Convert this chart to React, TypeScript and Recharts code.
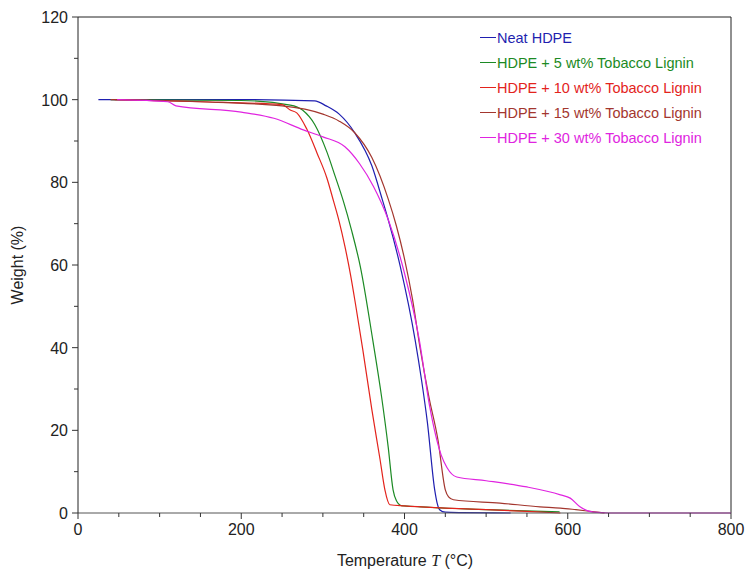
import { LineChart, Line, XAxis, YAxis, ReferenceLine } from 'recharts';

const neatT = [25, 100, 200, 290, 304, 320, 339, 360, 373, 380, 395, 413, 421, 428, 437, 440, 443, 450, 470, 530];
const neatW = [100, 100, 100, 99.7, 98.5, 96.5, 92, 84, 75.7, 71, 59.5, 41.9, 32, 22, 5.6, 2.4, 0.8, 0.2, 0.1, 0];

const tl5T = [40, 200, 260, 275, 290, 305, 315, 325, 335, 346, 361, 372, 380, 386, 390, 396, 420, 500, 590];
const tl5W = [100, 99.8, 98.7, 97.5, 94, 87.3, 81.5, 75.5, 68.5, 59.5, 42, 28, 16, 5.6, 3, 1.8, 1.5, 0.8, 0.3];

const tl10T = [45, 150, 250, 260, 268, 280, 293, 305, 313, 320, 327, 334, 340, 349, 360, 370, 376, 382, 400, 450, 500, 550, 591];
const tl10W = [100, 99.5, 98.8, 97.5, 96.8, 93, 87, 81, 75.5, 70.5, 64.5, 57.5, 50.5, 39.4, 25, 13, 5.6, 2, 1.7, 1.2, 0.8, 0.4, 0];

const tl15T = [40, 150, 250, 300, 320, 339, 360, 380, 390, 400, 410, 419, 430, 441, 450, 454, 460, 517, 566, 591, 610, 636, 645];
const tl15W = [100, 99.5, 98.5, 96.5, 94.8, 92, 86, 76, 69.5, 61.5, 51.5, 40, 28, 17.7, 5.6, 3.9, 3.2, 2.4, 1.5, 1.2, 0.8, 0.2, 0];

const tl30T = [48, 110, 120, 200, 240, 276, 300, 327, 345, 362, 380, 400, 418, 431, 445, 452, 464, 500, 550, 591, 603, 615, 631, 650, 700, 800];
const tl30W = [100, 99.5, 98.5, 97, 95.5, 92.7, 91, 88.6, 84.5, 79, 71, 58, 42, 25.6, 14, 11, 8.7, 7.8, 6.3, 4.4, 3.6, 1.5, 0.2, 0, 0, 0];

const xTicks = [0, 50, 100, 150, 200, 250, 300, 350, 400, 450, 500, 550, 600, 650, 700, 750, 800];
const yTicks = [0, 10, 20, 30, 40, 50, 60, 70, 80, 90, 100, 110, 120];

const seriesNames = [
  'Neat HDPE',
  'HDPE + 5 wt% Tobacco Lignin',
  'HDPE + 10 wt% Tobacco Lignin',
  'HDPE + 15 wt% Tobacco Lignin',
  'HDPE + 30 wt% Tobacco Lignin',
];
const seriesColors = ['#1f1fb0', '#1c8a24', '#e3231c', '#a3362e', '#e024e0'];

const zip = (ts: number[], ws: number[]) => ts.map((t, i) => ({ t, w: ws[i] }));

const series = [
  zip(neatT, neatW),
  zip(tl5T, tl5W),
  zip(tl10T, tl10W),
  zip(tl15T, tl15W),
  zip(tl30T, tl30W),
];

const FONT = '"Liberation Sans", Arial, sans-serif';

function XTick(props: any) {
  const { x, y, payload } = props;
  const major = payload.value % 200 === 0;
  return (
    <g>
      <line x1={x} y1={y - 8} x2={x} y2={y - 8 + (major ? 6 : 4)} stroke="#333" />
      {major && (
        <text x={x} y={y + 14} textAnchor="middle" fontSize={16} fill="#222" fontFamily={FONT}>
          {payload.value}
        </text>
      )}
    </g>
  );
}

function YTick(props: any) {
  const { x, y, payload } = props;
  const major = payload.value % 20 === 0;
  return (
    <g>
      <line x1={x + 8} y1={y} x2={x + 8 - (major ? 6 : 4)} y2={y} stroke="#333" />
      {major && (
        <text x={x - 2} y={y + 6} textAnchor="end" fontSize={16} fill="#222" fontFamily={FONT}>
          {payload.value}
        </text>
      )}
    </g>
  );
}

export default function App() {
  return (
    <div style={{ position: 'absolute', left: 0, top: 0, width: 746, height: 571, background: '#fff' }}>
      <LineChart width={746} height={571} margin={{ top: 17, right: 15, left: 0, bottom: 0 }}>
        <XAxis
          dataKey="t"
          type="number"
          domain={[0, 800]}
          ticks={xTicks}
          interval={0}
          height={58}
          stroke="#555"
          tickLine={false}
          tick={<XTick />}
          allowDataOverflow
        />
        <YAxis
          dataKey="w"
          type="number"
          domain={[0, 120]}
          ticks={yTicks}
          interval={0}
          width={78}
          stroke="#222"
          tickLine={false}
          tick={<YTick />}
        />
        <ReferenceLine y={120} stroke="#222" />
        <ReferenceLine x={800} stroke="#222" />
        {series.map((d, i) => (
          <Line
            key={seriesNames[i]}
            data={d}
            dataKey="w"
            name={seriesNames[i]}
            type="monotone"
            stroke={seriesColors[i]}
            strokeWidth={1.2}
            dot={false}
            isAnimationActive={false}
          />
        ))}
      </LineChart>
      <div
        style={{
          position: 'absolute',
          left: 0,
          top: 0,
          width: 746,
          height: 571,
          pointerEvents: 'none',
          fontFamily: FONT,
          color: '#222',
        }}
      >
        <div style={{ position: 'absolute', left: 480, top: 25, fontSize: 14.5 }}>
          {seriesNames.map((n, i) => (
            <div key={n} style={{ display: 'flex', alignItems: 'center', height: 25, color: seriesColors[i] }}>
              <span style={{ display: 'inline-block', width: 16, height: 1, background: seriesColors[i], marginRight: 1 }} />
              <span>{n}</span>
            </div>
          ))}
        </div>
        <div
          style={{
            position: 'absolute',
            left: 18,
            top: 265,
            fontSize: 16,
            transform: 'translate(-50%, -50%) rotate(-90deg)',
            whiteSpace: 'nowrap',
          }}
        >
          Weight (%)
        </div>
        <div
          style={{
            position: 'absolute',
            left: 405,
            top: 561,
            fontSize: 16,
            transform: 'translate(-50%, -50%)',
            whiteSpace: 'nowrap',
          }}
        >
          Temperature <span style={{ fontFamily: '"Liberation Serif", serif', fontStyle: 'italic' }}>T</span> (°C)
        </div>
      </div>
    </div>
  );
}
